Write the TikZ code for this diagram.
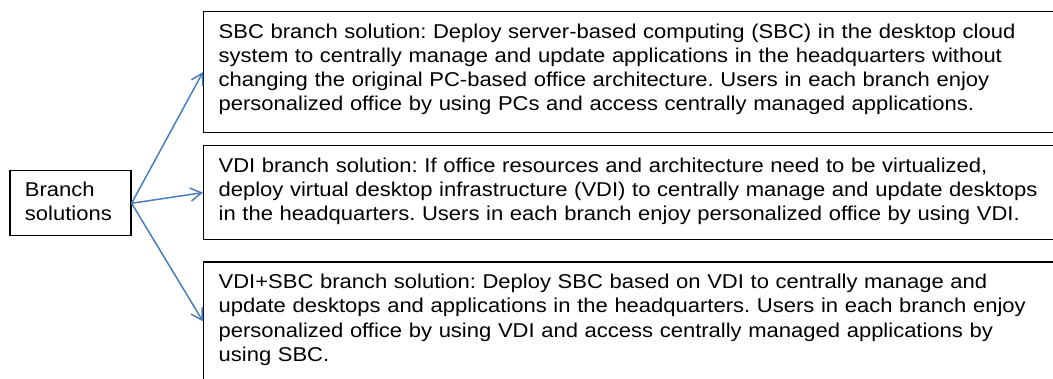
\documentclass[tikz,border=0pt]{standalone}
\usepackage{fontspec}
\setmainfont{Liberation Sans}[FakeStretch=1.1]
\usetikzlibrary{arrows.meta}
\definecolor{linkblue}{RGB}{74,126,187}
\frenchspacing
\begin{document}
\begin{tikzpicture}[x=1pt,y=-1pt,
  panel/.style={draw=black, line width=1.3pt, inner xsep=15pt, inner ysep=0pt,
    anchor=north west, align=left, font=\fontsize{20}{24.2}\selectfont\frenchspacing},
  link/.style={draw=linkblue, line width=1.5pt,
    -{Straight Barb[length=11pt,width=13pt,line width=1.5pt]}}]
\useasboundingbox (0,0) rectangle (1053,379);
\clip (0,0) rectangle (1053,379);

% root box
\node[panel, text width=91pt] (root) at (9.3,170)
  {\rule{0pt}{26pt}Branch\\solutions\rule[-15pt]{0pt}{15pt}};

% solution boxes (they run past the right and bottom edges)
\node[panel, text width=840pt] (sbc) at (203,11)
  {\rule{0pt}{26.5pt}SBC branch solution: Deploy server-based computing (SBC) in the desktop cloud\\
   system to centrally manage and update applications in the headquarters without\\
   changing the original PC-based office architecture. Users in each branch enjoy\\
   personalized office by using PCs and access centrally managed applications.\rule[-21.6pt]{0pt}{21.6pt}};

\node[panel, text width=840pt] (vdi) at (203,145)
  {\rule{0pt}{26.5pt}VDI branch solution: If office resources and architecture need to be virtualized,\\
   deploy virtual desktop infrastructure (VDI) to centrally manage and update desktops\\
   in the headquarters. Users in each branch enjoy personalized office by using VDI.\rule[-19.1pt]{0pt}{19.1pt}};

\node[panel, text width=840pt] (both) at (203,261.5)
  {\rule{0pt}{26.5pt}VDI+SBC branch solution: Deploy SBC based on VDI to centrally manage and\\
   update desktops and applications in the headquarters. Users in each branch enjoy\\
   personalized office by using VDI and access centrally managed applications by\\
   using SBC.\rule[-19.4pt]{0pt}{19.4pt}};

% connectors
\draw[link] (root.east) -- (sbc.west);
\draw[link] (root.east) -- (vdi.west);
\draw[link] (root.east) -- (both.west);
\end{tikzpicture}
\end{document}
